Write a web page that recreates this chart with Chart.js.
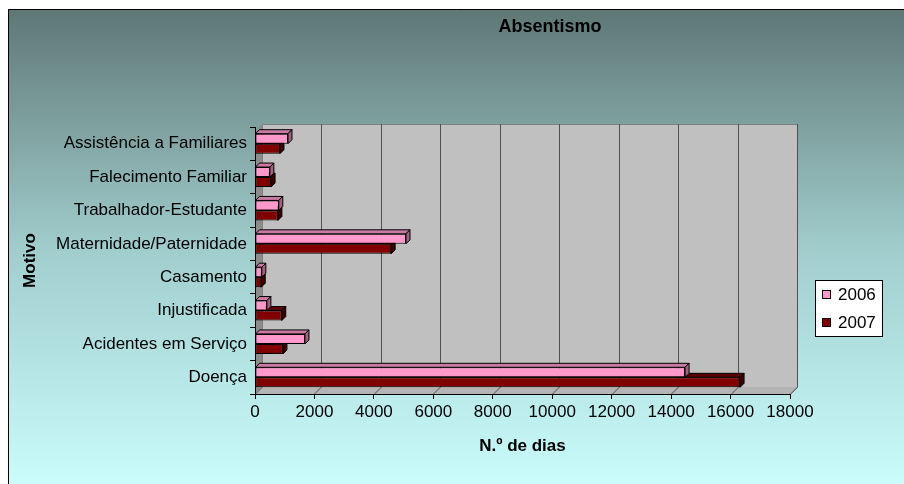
<!DOCTYPE html>
<html>
<head>
<meta charset="utf-8">
<script src="https://cdn.jsdelivr.net/npm/chart.js@4"></script>
<style>
  html, body { margin: 0; padding: 0; background: #fff; }
  #wrap { width: 904px; height: 484px; }
</style>
</head>
<body>
<div id="wrap"><canvas id="absChart" width="904" height="484"></canvas></div>
<script>
const motivos = ['Assistência a Familiares', 'Falecimento Familiar', 'Trabalhador-Estudante', 'Maternidade/Paternidade', 'Casamento', 'Injustificada', 'Acidentes em Serviço', 'Doença'];
const dias2006 = [1110, 500, 800, 5080, 230, 400, 1680, 14470];
const dias2007 = [840, 540, 770, 4580, 210, 900, 940, 16320];
const xTicks = [0, 2000, 4000, 6000, 8000, 10000, 12000, 14000, 16000, 18000];

const DEPTH = 7;     // profundidade das paredes
const BAR_D = 4;     // profundidade das barras
const FAM = '"Liberation Sans", Arial, sans-serif';

// fundo, paredes e grelha em "3D"
const fundo3d = {
  id: 'fundo3d',
  beforeDraw(chart) {
    const { ctx, chartArea: a, width, height } = chart;
    const xs = chart.scales.x;
    ctx.save();
    ctx.fillStyle = '#fff';
    ctx.fillRect(0, 0, width, height);
    const g = ctx.createLinearGradient(0, 9, 0, height);
    g.addColorStop(0, '#5e7775');
    g.addColorStop(0.5, '#a0cccc');
    g.addColorStop(1, '#cafcfc');
    ctx.fillStyle = g;
    ctx.fillRect(8, 9, width - 8, height - 9);
    ctx.strokeStyle = '#000';
    ctx.lineWidth = 1;
    ctx.beginPath();
    ctx.moveTo(8.5, height);
    ctx.lineTo(8.5, 9.5);
    ctx.lineTo(width, 9.5);
    ctx.stroke();

    const wTop = a.top - 3;
    const d = DEPTH;
    // parede do fundo
    ctx.fillStyle = '#c0c0c0';
    ctx.fillRect(a.left + d, wTop, a.right - a.left, a.bottom - d - wTop);
    // parede esquerda
    ctx.fillStyle = '#8c8c8c';
    ctx.beginPath();
    ctx.moveTo(a.left, a.bottom);
    ctx.lineTo(a.left, wTop + d);
    ctx.lineTo(a.left + d, wTop);
    ctx.lineTo(a.left + d, a.bottom - d);
    ctx.closePath();
    ctx.fill();
    // chão
    ctx.fillStyle = '#b4b4b4';
    ctx.beginPath();
    ctx.moveTo(a.left, a.bottom);
    ctx.lineTo(a.left + d, a.bottom - d);
    ctx.lineTo(a.right + d, a.bottom - d);
    ctx.lineTo(a.right, a.bottom);
    ctx.closePath();
    ctx.fill();
    // contornos
    ctx.strokeStyle = '#808080';
    ctx.beginPath();
    ctx.moveTo(a.left + d + 0.5, a.bottom - d);
    ctx.lineTo(a.left + d + 0.5, wTop + 0.5);
    ctx.lineTo(a.right + d + 0.5, wTop + 0.5);
    ctx.lineTo(a.right + d + 0.5, a.bottom - d + 0.5);
    ctx.lineTo(a.right + 0.5, a.bottom + 0.5);
    ctx.stroke();
    // linhas da grelha
    ctx.strokeStyle = '#505050';
    xTicks.forEach(v => {
      const x = Math.round(xs.getPixelForValue(v)) + 0.5;
      if (v > 0) {
        ctx.beginPath();
        ctx.moveTo(x + d, wTop);
        ctx.lineTo(x + d, a.bottom - d);
        ctx.stroke();
      }
      ctx.beginPath();
      ctx.moveTo(x + d, a.bottom - d);
      ctx.lineTo(x, a.bottom);
      ctx.stroke();
    });
    ctx.restore();
  },
  beforeDatasetsDraw(chart) {
    faces(chart, 1, '#5a0000', '#3c0000');
  },
  afterDatasetsDraw(chart) {
    faces(chart, 0, '#c87aa4', '#a0607f');
  },
  afterDraw(chart) {
    const { ctx } = chart;
    ctx.save();
    ctx.fillStyle = '#000';
    ctx.font = 'bold 18px ' + FAM;
    ctx.textAlign = 'center';
    ctx.textBaseline = 'middle';
    ctx.fillText('Absentismo', 550, 27);
    // legenda
    ctx.fillStyle = '#fff';
    ctx.fillRect(815, 280, 67, 56);
    ctx.strokeStyle = '#000';
    ctx.strokeRect(815.5, 280.5, 67, 56);
    ctx.font = '17px ' + FAM;
    ctx.textAlign = 'left';
    chart.data.datasets.forEach((ds, i) => {
      const y = 294 + i * 28;
      ctx.fillStyle = ds.backgroundColor;
      ctx.fillRect(822, y - 4, 8, 8);
      ctx.strokeRect(822.5, y - 3.5, 8, 8);
      ctx.fillStyle = '#000';
      ctx.fillText(ds.label, 838, y + 1);
    });
    ctx.restore();
  }
};

function faces(chart, idx, topCol, sideCol) {
  const { ctx } = chart;
  const d = BAR_D;
  ctx.save();
  ctx.strokeStyle = '#000';
  ctx.lineWidth = 1;
  chart.getDatasetMeta(idx).data.forEach(el => {
    const p = el.getProps(['x', 'y', 'base', 'height'], true);
    const t = p.y - p.height / 2, b = p.y + p.height / 2;
    ctx.fillStyle = topCol;
    ctx.beginPath();
    ctx.moveTo(p.base, t);
    ctx.lineTo(p.base + d, t - d);
    ctx.lineTo(p.x + d, t - d);
    ctx.lineTo(p.x, t);
    ctx.closePath();
    ctx.fill();
    ctx.stroke();
    ctx.fillStyle = sideCol;
    ctx.beginPath();
    ctx.moveTo(p.x, t);
    ctx.lineTo(p.x + d, t - d);
    ctx.lineTo(p.x + d, b - d);
    ctx.lineTo(p.x, b);
    ctx.closePath();
    ctx.fill();
    ctx.stroke();
  });
  ctx.restore();
}

const fonte = { family: FAM, size: 17 };
const fonteTit = { family: FAM, size: 17, weight: 'bold' };

new Chart(document.getElementById('absChart'), {
  type: 'bar',
  data: {
    labels: motivos,
    datasets: [
      { label: '2006', data: dias2006, backgroundColor: '#ff99cc', borderColor: '#000', borderWidth: 1, borderSkipped: false },
      { label: '2007', data: dias2007, backgroundColor: '#800000', borderColor: '#000', borderWidth: 1, borderSkipped: false }
    ]
  },
  options: {
    indexAxis: 'y',
    responsive: false,
    animation: false,
    events: [],
    categoryPercentage: 0.6,
    barPercentage: 1,
    layout: { padding: { left: 20, right: 114, top: 127, bottom: 27 } },
    plugins: { legend: { display: false }, title: { display: false }, tooltip: { enabled: false } },
    scales: {
      x: {
        min: 0,
        max: 18000,
        afterBuildTicks: s => { s.ticks = xTicks.map(v => ({ value: v })); },
        afterFit: s => { s.height = 63; },
        grid: { drawOnChartArea: false, drawTicks: true, tickLength: 5, color: '#000' },
        border: { display: true, color: '#000' },
        ticks: { color: '#000', font: fonte, padding: 3, maxRotation: 0, callback: v => String(v) },
        title: { display: true, text: 'N.º de dias', color: '#000', padding: 0, font: fonteTit }
      },
      y: {
        afterFit: s => { s.width = 235; },
        grid: { drawOnChartArea: false, drawTicks: true, tickLength: 5, color: '#000' },
        border: { display: true, color: '#000' },
        ticks: { color: '#000', font: fonte, padding: 3 },
        title: { display: true, text: 'Motivo', color: '#000', padding: 0, font: fonteTit }
      }
    }
  },
  plugins: [fundo3d]
});
</script>
</body>
</html>
